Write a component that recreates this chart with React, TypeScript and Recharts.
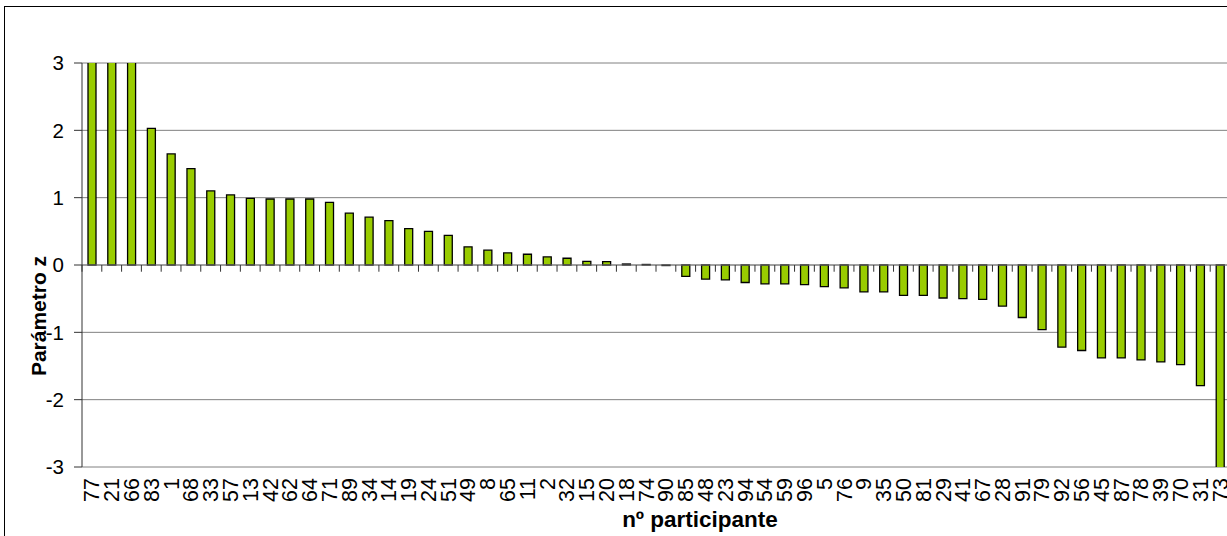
import { BarChart, Bar, XAxis, YAxis, CartesianGrid, ReferenceLine, Label } from 'recharts'

// participant numbers, in the order of the bars
const participants = [
  '77', '21', '66', '83', '1', '68', '33', '57', '13', '42',
  '62', '64', '71', '89', '34', '14', '19', '24', '51', '49',
  '8', '65', '11', '2', '32', '15', '20', '18', '74', '90',
  '85', '48', '23', '94', '54', '59', '96', '5', '76', '9',
  '35', '50', '81', '29', '41', '67', '28', '91', '79', '92',
  '56', '45', '87', '78', '39', '70', '31', '73',
]

// z score of each participant (first three and last one run off the axis)
const zScores = [
  3.5, 3.5, 3.5, 2.03, 1.65, 1.43, 1.1, 1.04, 0.99, 0.98,
  0.98, 0.98, 0.93, 0.77, 0.71, 0.66, 0.54, 0.5, 0.44, 0.27,
  0.22, 0.18, 0.16, 0.12, 0.1, 0.055, 0.05, 0.015, 0.008, -0.008,
  -0.17, -0.21, -0.22, -0.26, -0.28, -0.28, -0.29, -0.32, -0.34, -0.4,
  -0.4, -0.45, -0.45, -0.49, -0.5, -0.51, -0.61, -0.78, -0.96, -1.22,
  -1.27, -1.38, -1.38, -1.41, -1.44, -1.48, -1.79, -3.5,
]

const yTicks = [-3, -2, -1, 0, 1, 2, 3]

const data = participants.map((p, i) => ({ p, z: zScores[i] }))

const font = 'Liberation Sans, Arial, sans-serif'

const CatTick = (props: any) => {
  const { x, y, payload } = props
  return (
    <text
      x={x}
      y={y}
      transform={`rotate(-90 ${x} ${y})`}
      textAnchor="end"
      dy="0.35em"
      fontSize={21.5}
      fontFamily={font}
      fill="#000"
    >
      {payload.value}
    </text>
  )
}

export default function App() {
  return (
    <div
      style={{
        position: 'absolute',
        left: 0,
        top: 0,
        width: 1227,
        height: 536,
        overflow: 'hidden',
        background: '#fff',
      }}
    >
      <div
        style={{
          position: 'absolute',
          left: 4,
          top: 6,
          width: 1300,
          height: 600,
          border: '1px solid #000',
        }}
      />
      <div style={{ position: 'absolute', left: 0, top: 0 }}>
        <BarChart
          width={1240}
          height={536}
          data={data}
          margin={{ top: 63, right: 10, bottom: 0, left: 0 }}
          barSize={8}
        >
          <CartesianGrid vertical={false} stroke="#808080" />
          <XAxis
            dataKey="p"
            interval={0}
            height={69}
            axisLine={false}
            tickLine={false}
            tickSize={0}
            tickMargin={11}
            tick={<CatTick />}
          >
            <Label
              content={() => (
                <text x={700} y={527} textAnchor="middle" fontSize={22.5} fontWeight="bold" fontFamily={font} fill="#000">
                  nº participante
                </text>
              )}
            />
          </XAxis>
          <YAxis
            width={82}
            domain={[-3, 3]}
            ticks={yTicks}
            allowDataOverflow
            tickSize={8}
            tickMargin={10}
            axisLine={{ stroke: '#333' }}
            tickLine={{ stroke: '#333' }}
            tick={{ fontSize: 20.5, fill: '#000', fontFamily: font }}
          >
            <Label
              content={() => (
                <text
                  x={39}
                  y={316}
                  transform="rotate(-90 39 316)"
                  textAnchor="middle"
                  dy="0.35em"
                  fontSize={21}
                  fontWeight="bold"
                  fontFamily={font}
                  fill="#000"
                >
                  Parámetro z
                </text>
              )}
            />
          </YAxis>
          <ReferenceLine y={0} stroke="#808080" />
          {participants.map((p) => (
            <ReferenceLine
              key={p}
              segment={[{ x: p, y: 0 }, { x: p, y: -0.1 }]}
              position="start"
              stroke="#333"
            />
          ))}
          <Bar dataKey="z" fill="#99CC00" stroke="#000" strokeWidth={1.3} isAnimationActive={false} />
        </BarChart>
      </div>
    </div>
  )
}
